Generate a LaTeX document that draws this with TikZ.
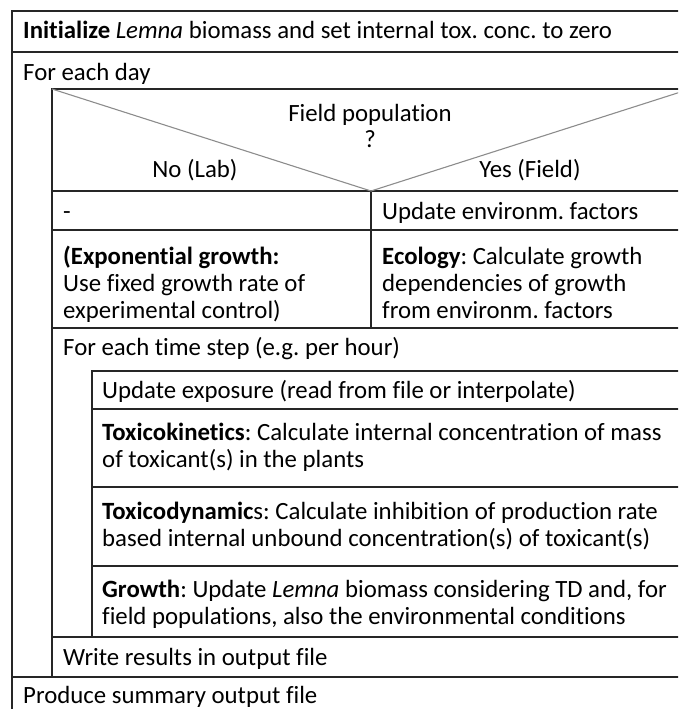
\documentclass[tikz,border=0pt]{standalone}
\usepackage{fontspec}
\setmainfont{Carlito}[Ligatures=CommonOff]
\usetikzlibrary{positioning}
\frenchspacing
\tikzset{
    every node/.style={font=\fontsize{24.8}{27}\selectfont}
}

\begin{document}
\begin{tikzpicture}[x=1pt,y=-1pt]
    % Styles for the structogram
    \tikzstyle{frame} = [line width=1.6pt, draw=black!85]
    \tikzstyle{heavy} = [line width=2.6pt, draw=black!85]
    \tikzstyle{diag} = [line width=1.1pt, draw=black!45]
    \tikzstyle{txt} = [anchor=base west, inner sep=0pt, align=left]
    \tikzstyle{mid} = [anchor=base, inner sep=0pt]

    \useasboundingbox (0,0) rectangle (678,709);
    \clip (0,0) rectangle (678,709);

    % Outer sequence
    \draw[frame] (690,11) -- (12,11) -- (12,720);
    \draw[frame] (12,52) -- (690,52);
    \draw[frame] (12,677) -- (690,677);

    % Day loop body
    \draw[frame] (690,89) -- (52,89) -- (52,677);
    \draw[heavy] (52,191) -- (690,191);
    \draw[heavy] (52,230) -- (371,230);
    \draw[frame] (371,230) -- (690,230);
    \draw[frame] (371,191) -- (371,328);
    \draw[heavy] (52,328) -- (690,328);
    \draw[frame] (52,637) -- (690,637);

    % Decision triangle
    \draw[diag] (52,89) -- (371,191) -- (690,89);

    % Hour loop body
    \draw[frame] (690,371) -- (92,371) -- (92,637);
    \draw[frame] (92,409) -- (690,409);
    \draw[frame] (92,487) -- (690,487);
    \draw[frame] (92,566) -- (690,566);

    % Texts (multi-line nodes sit on their last baseline)
    \node[txt] (init) at (23,39) {\textbf{Initialize} \textit{Lemna} biomass and set internal tox. conc. to zero};
    \node[txt] (day) at (23,80) {For each day};
    \node[mid] (cond) at (370,121) {Field population};
    \node[mid] (quest) at (370,147) {?};
    \node[mid] (no) at (195,177) {No (Lab)};
    \node[mid] (yes) at (530,177) {Yes (Field)};
    \node[txt] (skip) at (63,219) {-};
    \node[txt] (env) at (382,219) {Update environm. factors};
    \node[txt] (expo) at (63,318) {\textbf{(Exponential growth:}\\Use fixed growth rate of\\experimental control)};
    \node[txt] (eco) at (382,318) {\textbf{Ecology}: Calculate growth\\dependencies of growth\\from environm. factors};
    \node[txt] (hour) at (63,355) {For each time step (e.g. per hour)};
    \node[txt] (exposure) at (102,398) {Update exposure (read from file or interpolate)};
    \node[txt] (tk) at (102,467) {\textbf{Toxicokinetics}: Calculate internal concentration of mass\\of toxicant(s) in the plants};
    \node[txt] (td) at (102,546) {\textbf{Toxicodynamic}s: Calculate inhibition of production rate\\based internal unbound concentration(s) of toxicant(s)};
    \node[txt] (growth) at (102,624) {\textbf{Growth}: Update \textit{Lemna} biomass considering TD and, for\\field populations, also the environmental conditions};
    \node[txt] (write) at (63,665) {Write results in output file};
    \node[txt] (summary) at (23,703) {Produce summary output file};
\end{tikzpicture}
\end{document}
